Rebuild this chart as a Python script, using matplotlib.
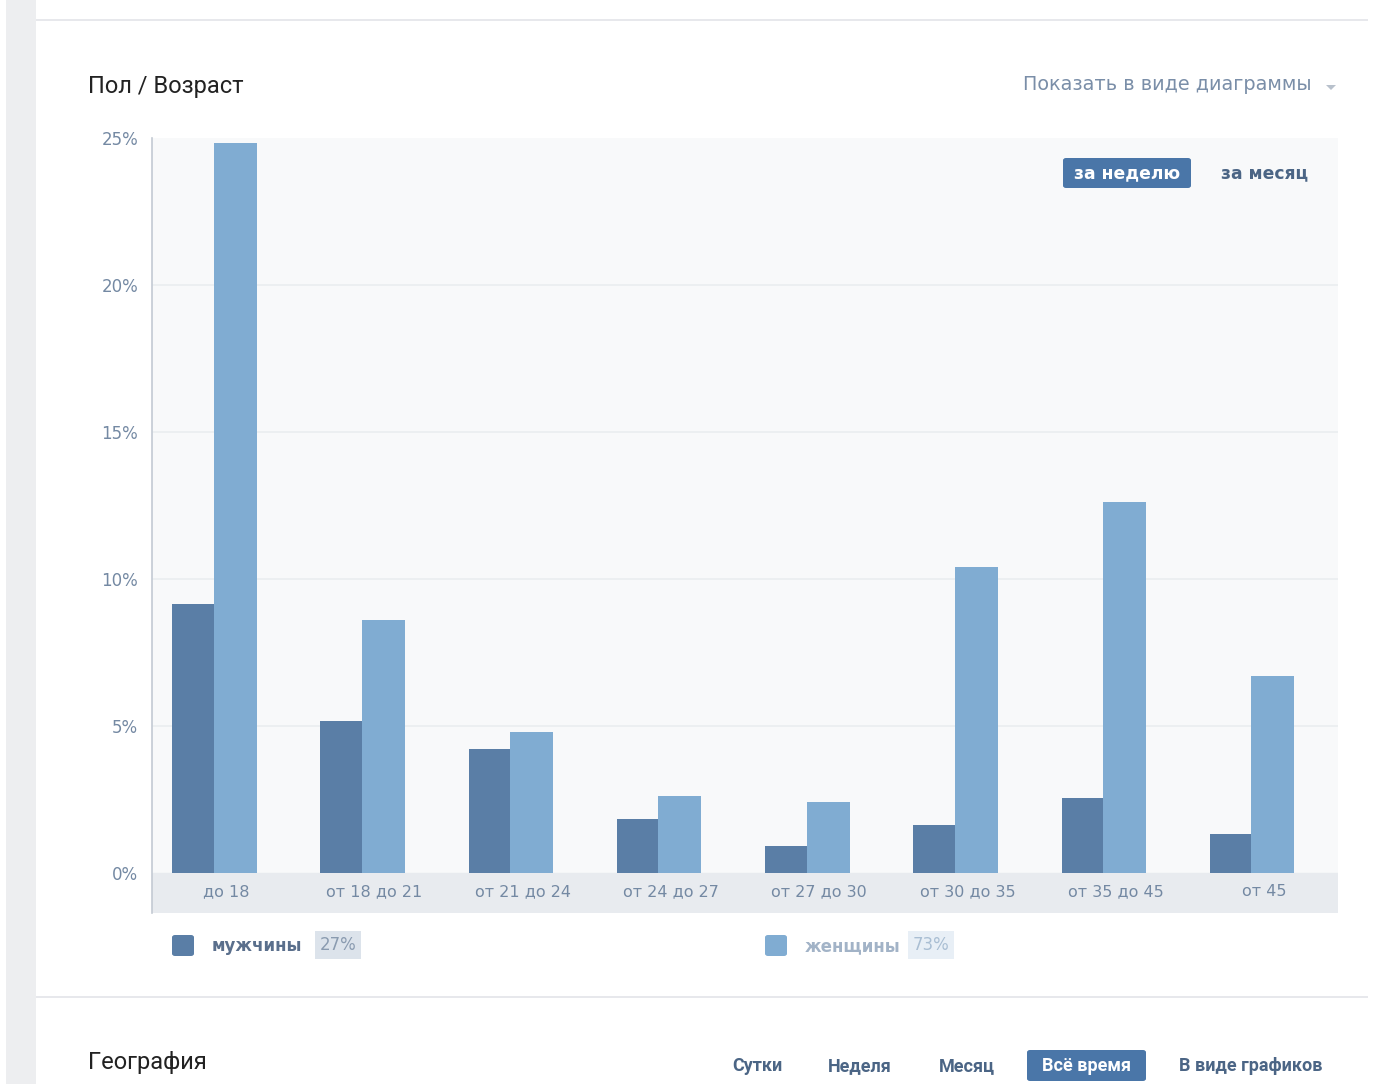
import matplotlib
matplotlib.use('Agg')
import matplotlib.pyplot as plt
from matplotlib.patches import Rectangle, FancyBboxPatch, Polygon
import numpy as np

categories = ['до 18', 'от 18 до 21', 'от 21 до 24', 'от 24 до 27',
              'от 27 до 30', 'от 30 до 35', 'от 35 до 45', 'от 45']
men = [9.15, 5.17, 4.22, 1.84, 0.92, 1.63, 2.55, 1.33]
women = [24.83, 8.6, 4.8, 2.62, 2.41, 10.41, 12.62, 6.7]
yticks = [0, 5, 10, 15, 20, 25]
legendNames = ['мужчины', 'женщины']
legendShares = ['27%', '73%']

W, H = 1373, 1084
MEN_COLOR = '#5a7ea6'
WOMEN_COLOR = '#80acd2'
BLUE = '#4a76a8'
TICK_COLOR = '#7489a3'

fig = plt.figure(figsize=(W / 100, H / 100), dpi=100)
fig.patch.set_facecolor('white')


def fx(x):
    return x / W


def fy(y):
    return 1 - y / H


def box(x0, y0, x1, y1, color, rounding=0):
    """Rectangle in screenshot pixel coords."""
    if rounding:
        p = FancyBboxPatch((fx(x0), fy(y1)), fx(x1) - fx(x0), fy(y0) - fy(y1),
                           boxstyle='round,pad=0,rounding_size=%f' % (rounding / W),
                           transform=fig.transFigure, facecolor=color, edgecolor='none')
    else:
        p = Rectangle((fx(x0), fy(y1)), fx(x1) - fx(x0), fy(y0) - fy(y1),
                      transform=fig.transFigure, facecolor=color, edgecolor='none')
    fig.add_artist(p)


def txt(x, y, s, **kw):
    fig.text(fx(x), fy(y), s, va='center', **kw)


# Page chrome
box(6, 0, 36, H, '#edeef0')
box(36, 19, 1368, 21, '#e7e8ec')
box(36, 996, 1368, 998, '#e7e8ec')

txt(88, 86, 'Пол / Возраст', fontsize=17, family='Roboto', color='#222222')
txt(1312, 84, 'Показать в виде диаграммы', fontsize=13.9, family='DejaVu Sans',
    color='#7a8ea8', ha='right')
fig.add_artist(Polygon([(fx(1326), fy(85)), (fx(1336), fy(85)), (fx(1331), fy(90))],
                       closed=True, transform=fig.transFigure,
                       facecolor='#b8c1cc', edgecolor='none'))

# Chart area
bandDepth = 40 / 29.4  # grey label band below zero, in percent units
ax = fig.add_axes([fx(152), fy(913), fx(1338) - fx(152), fy(138) - fy(913)])
ax.set_facecolor('#f8f9fa')
ax.set_xlim(-0.5, len(categories) - 0.5)
ax.set_ylim(-bandDepth, 25)
ax.axhspan(-bandDepth, 0, color='#e8ebef', zorder=0.5)
for t in yticks[1:-1]:
    ax.axhline(t, color='#eaedf0', lw=1.2, zorder=0.6)

x = np.arange(len(categories))
ax.bar(x - 0.223, men, width=0.284, color=MEN_COLOR, zorder=2)
ax.bar(x + 0.061, women, width=0.29, color=WOMEN_COLOR, zorder=2)

for i, label in enumerate(categories):
    ax.text(i, -bandDepth / 2 + 0.05, label, ha='center', va='center',
            fontsize=11.5, family='DejaVu Sans', color=TICK_COLOR)

ax.set_yticks(yticks)
ax.set_yticklabels(['%d%%' % t for t in yticks], fontsize=12,
                   family='DejaVu Sans', color=TICK_COLOR)
ax.set_xticks([])
ax.tick_params(axis='y', length=0, pad=10)
for side in ['top', 'right', 'bottom']:
    ax.spines[side].set_visible(False)
ax.spines['left'].set_color('#c3cad3')
ax.spines['left'].set_linewidth(1.2)

# Period switch inside the chart
box(1063, 158, 1191, 188, BLUE, rounding=3)
txt(1127, 173, 'за неделю', fontsize=12.3, family='DejaVu Sans', weight='bold',
    color='white', ha='center')
txt(1265, 173, 'за месяц', fontsize=12.3, family='DejaVu Sans', weight='bold',
    color='#4b6585', ha='center')

# Legend
legendX = [172, 765]
nameColors = ['#5a6f8c', '#a2b3c7']
shareBg = ['#dce3eb', '#e8eff6']
shareColors = ['#8a9bb0', '#a9bed3']
barColors = [MEN_COLOR, WOMEN_COLOR]
for i in range(2):
    x0 = legendX[i]
    box(x0, 935, x0 + 22, 956, barColors[i], rounding=3)
    fig.text(fx(x0 + 40), fy(946), legendNames[i], va='center', fontsize=12,
             family='DejaVu Sans', weight='bold', color=nameColors[i])
    bx0 = x0 + 143
    box(bx0, 931, bx0 + 46, 959, shareBg[i])
    txt(bx0 + 23, 945, legendShares[i], fontsize=12, family='DejaVu Sans',
        color=shareColors[i], ha='center')

# Next section header
txt(88, 1062, 'География', fontsize=17, family='Roboto', color='#222222')
box(1027, 1050, 1146, 1081, BLUE, rounding=3)
periodLabels = ['Сутки', 'Неделя', 'Месяц', 'Всё время', 'В виде графиков']
periodX = [757, 860, 967, 1087, 1251]
for label, px in zip(periodLabels, periodX):
    color = 'white' if label == 'Всё время' else '#4b6585'
    txt(px, 1066, label, fontsize=13, family='Roboto', weight='bold',
        color=color, ha='center')

plt.savefig('out.png', dpi=100)
plt.close()
